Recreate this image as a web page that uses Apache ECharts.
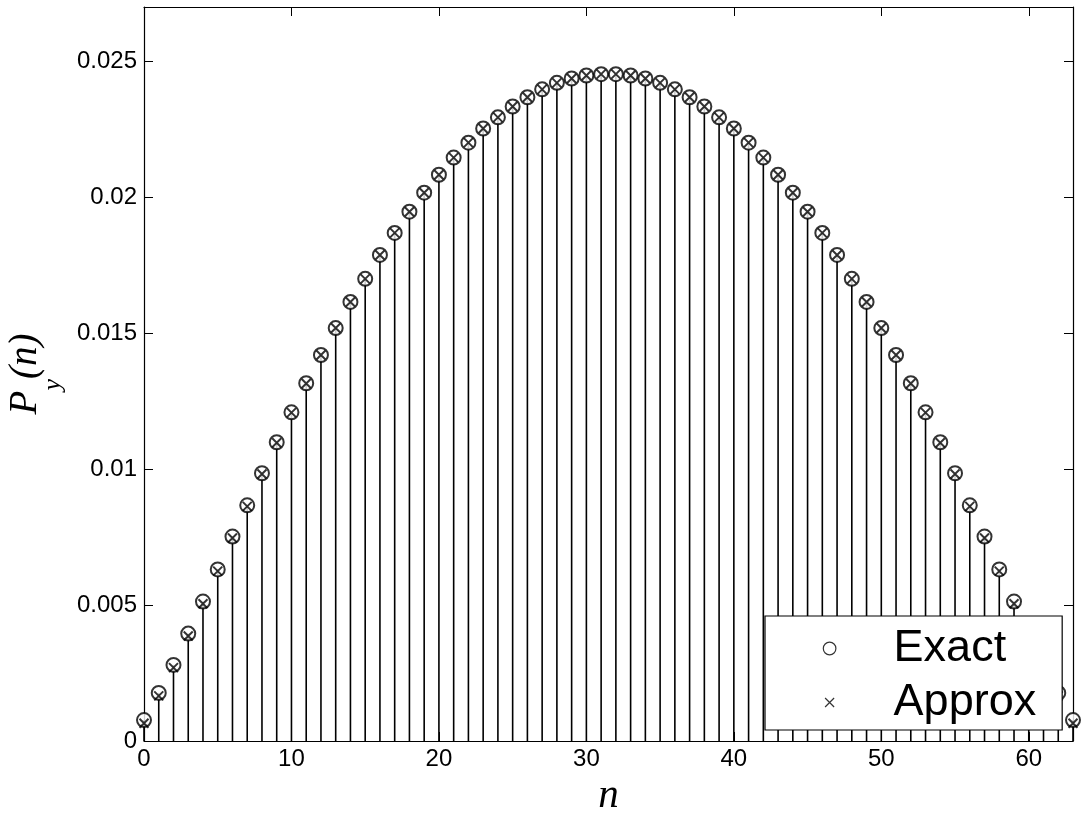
<!DOCTYPE html>
<html>
<head>
<meta charset="utf-8">
<script src="https://cdn.jsdelivr.net/npm/echarts@6/dist/echarts.min.js"></script>
<style>
html,body{margin:0;padding:0;background:#fff;}
#chart{width:1087px;height:817px;}
</style>
</head>
<body>
<div id="chart"></div>
<script>
var nValues = [0,1,2,3,4,5,6,7,8,9,10,11,12,13,14,15,16,17,18,19,20,21,22,23,24,25,26,27,28,29,30,31,
  32,33,34,35,36,37,38,39,40,41,42,43,44,45,46,47,48,49,50,51,52,53,54,55,56,57,58,59,60,61,62,63];
var exactValues = [0.00077,0.00177,0.00280,0.00395,0.00513,0.00631,0.00752,0.00867,0.00985,0.01099,
  0.01209,0.01316,0.01420,0.01519,0.01615,0.01700,0.01788,0.01869,0.01947,0.02017,
  0.02083,0.02146,0.02201,0.02253,0.02294,0.02334,0.02368,0.02397,0.02421,0.02437,
  0.02448,0.02453,0.02453,0.02448,0.02437,0.02421,0.02397,0.02368,0.02334,0.02294,
  0.02253,0.02201,0.02146,0.02083,0.02017,0.01947,0.01869,0.01788,0.01700,0.01615,
  0.01519,0.01420,0.01316,0.01209,0.01099,0.00985,0.00867,0.00752,0.00631,0.00513,
  0.00395,0.00280,0.00177,0.00077];
var approxValues = [0.00065,0.00166,0.00270,0.00386,0.00505,0.00625,0.00747,0.00863,0.00982,0.01097,
  0.01208,0.01315,0.01420,0.01519,0.01615,0.01700,0.01788,0.01869,0.01947,0.02017,
  0.02083,0.02146,0.02201,0.02253,0.02294,0.02334,0.02368,0.02397,0.02421,0.02437,
  0.02448,0.02453,0.02453,0.02448,0.02437,0.02421,0.02397,0.02368,0.02334,0.02294,
  0.02253,0.02201,0.02146,0.02083,0.02017,0.01947,0.01869,0.01788,0.01700,0.01615,
  0.01519,0.01420,0.01315,0.01208,0.01097,0.00982,0.00863,0.00747,0.00625,0.00505,
  0.00386,0.00270,0.00166,0.00065];
var seriesNames = ['Exact', 'Approx'];
var xTickInterval = 10;
var yTickInterval = 0.005;

function pairs(xs, ys) { return xs.map(function (x, i) { return [x, ys[i]]; }); }

var sansFont = '"Liberation Sans", Arial, Helvetica, sans-serif';
var serifFont = '"Liberation Serif", "Times New Roman", serif';

// legend icons: bounding box 118 x 14, glyph centred
var circleIcon = 'path://M0,0M118,14M65.3,7A6.3,6.3,0,1,1,52.7,7A6.3,6.3,0,1,1,65.3,7Z';
var crossIcon = 'path://M0,0M118,14M54.5,2.5L63.5,11.5M63.5,2.5L54.5,11.5';

var chart = echarts.init(document.getElementById('chart'), null, {renderer: 'canvas'});
var option = {
  animation: false,
  backgroundColor: '#fff',
  grid: {left: 144, right: 14, top: 7, bottom: 76, containLabel: false, outerBoundsMode: 'none'},
  xAxis: [{
    type: 'value', min: 0, max: 63, interval: xTickInterval,
    position: 'bottom',
    name: 'n', nameLocation: 'middle', nameGap: 30,
    nameTextStyle: {fontFamily: serifFont, fontStyle: 'italic', fontSize: 41, color: '#000'},
    axisLine: {show: true, onZero: false, lineStyle: {color: '#000', width: 1.2}},
    axisTick: {show: true, inside: true, length: 9, lineStyle: {color: '#000', width: 1}},
    axisLabel: {show: true, margin: 6, fontFamily: sansFont, fontSize: 24, color: '#000', showMaxLabel: false},
    splitLine: {show: false}
  }, {
    type: 'value', min: 0, max: 63, interval: xTickInterval,
    position: 'top',
    axisLine: {show: true, onZero: false, lineStyle: {color: '#000', width: 1.2}},
    axisTick: {show: true, inside: true, length: 9, lineStyle: {color: '#000', width: 1}},
    axisLabel: {show: false},
    splitLine: {show: false}
  }],
  yAxis: [{
    type: 'value', min: 0, max: 0.027, interval: yTickInterval,
    position: 'left',
    name: '{p|P}{s|y}{p|(n)}', nameLocation: 'middle', nameGap: 82, nameRotate: 90,
    nameTextStyle: {
      color: '#000',
      rich: {
        p: {fontFamily: serifFont, fontStyle: 'italic', fontSize: 39, lineHeight: 39, padding: [0, 0, 21, 0], color: '#000'},
        s: {fontFamily: serifFont, fontStyle: 'italic', fontSize: 26, lineHeight: 26, padding: [34, 0, 0, 0], color: '#000'}
      }
    },
    axisLine: {show: true, onZero: false, lineStyle: {color: '#000', width: 1.2}},
    axisTick: {show: true, inside: true, length: 9, lineStyle: {color: '#000', width: 1}},
    axisLabel: {show: true, margin: 7, fontFamily: sansFont, fontSize: 24, color: '#000', showMaxLabel: false},
    splitLine: {show: false}
  }, {
    type: 'value', min: 0, max: 0.027, interval: yTickInterval,
    position: 'right',
    axisLine: {show: true, onZero: false, lineStyle: {color: '#000', width: 1.2}},
    axisTick: {show: true, inside: true, length: 9, lineStyle: {color: '#000', width: 1}},
    axisLabel: {show: false},
    splitLine: {show: false}
  }],
  legend: {
    show: true,
    orient: 'vertical',
    left: 765, top: 616,
    padding: [10, 26, 5, 5],
    itemGap: 9,
    itemWidth: 118, itemHeight: 14,
    backgroundColor: '#fff',
    borderColor: '#000', borderWidth: 1.2,
    borderRadius: 0,
    textStyle: {fontFamily: sansFont, fontSize: 45, color: '#000'},
    data: [
      {name: seriesNames[0], icon: circleIcon, itemStyle: {color: 'transparent', borderColor: '#000', borderWidth: 1.2}},
      {name: seriesNames[1], icon: crossIcon, itemStyle: {color: 'transparent', borderColor: '#000', borderWidth: 1.2}}
    ],
    selectedMode: false,
    z: 20
  },
  series: [{
    name: 'stems',
    type: 'bar',
    xAxisIndex: 0, yAxisIndex: 0,
    barWidth: 1.6,
    itemStyle: {color: '#000'},
    silent: true,
    z: 2,
    data: pairs(nValues, exactValues)
  }, {
    name: seriesNames[0],
    type: 'scatter',
    xAxisIndex: 0, yAxisIndex: 0,
    symbol: 'circle',
    symbolSize: 14,
    itemStyle: {color: '#fff', borderColor: '#000', borderWidth: 2},
    z: 3,
    data: pairs(nValues, exactValues)
  }, {
    name: seriesNames[1],
    type: 'scatter',
    xAxisIndex: 0, yAxisIndex: 0,
    symbol: 'path://M0,0L10,10M10,0L0,10',
    symbolSize: 9,
    itemStyle: {color: 'transparent', borderColor: '#000', borderWidth: 2},
    z: 4,
    data: pairs(nValues, approxValues)
  }]
};
chart.setOption(option);
</script>
</body>
</html>
